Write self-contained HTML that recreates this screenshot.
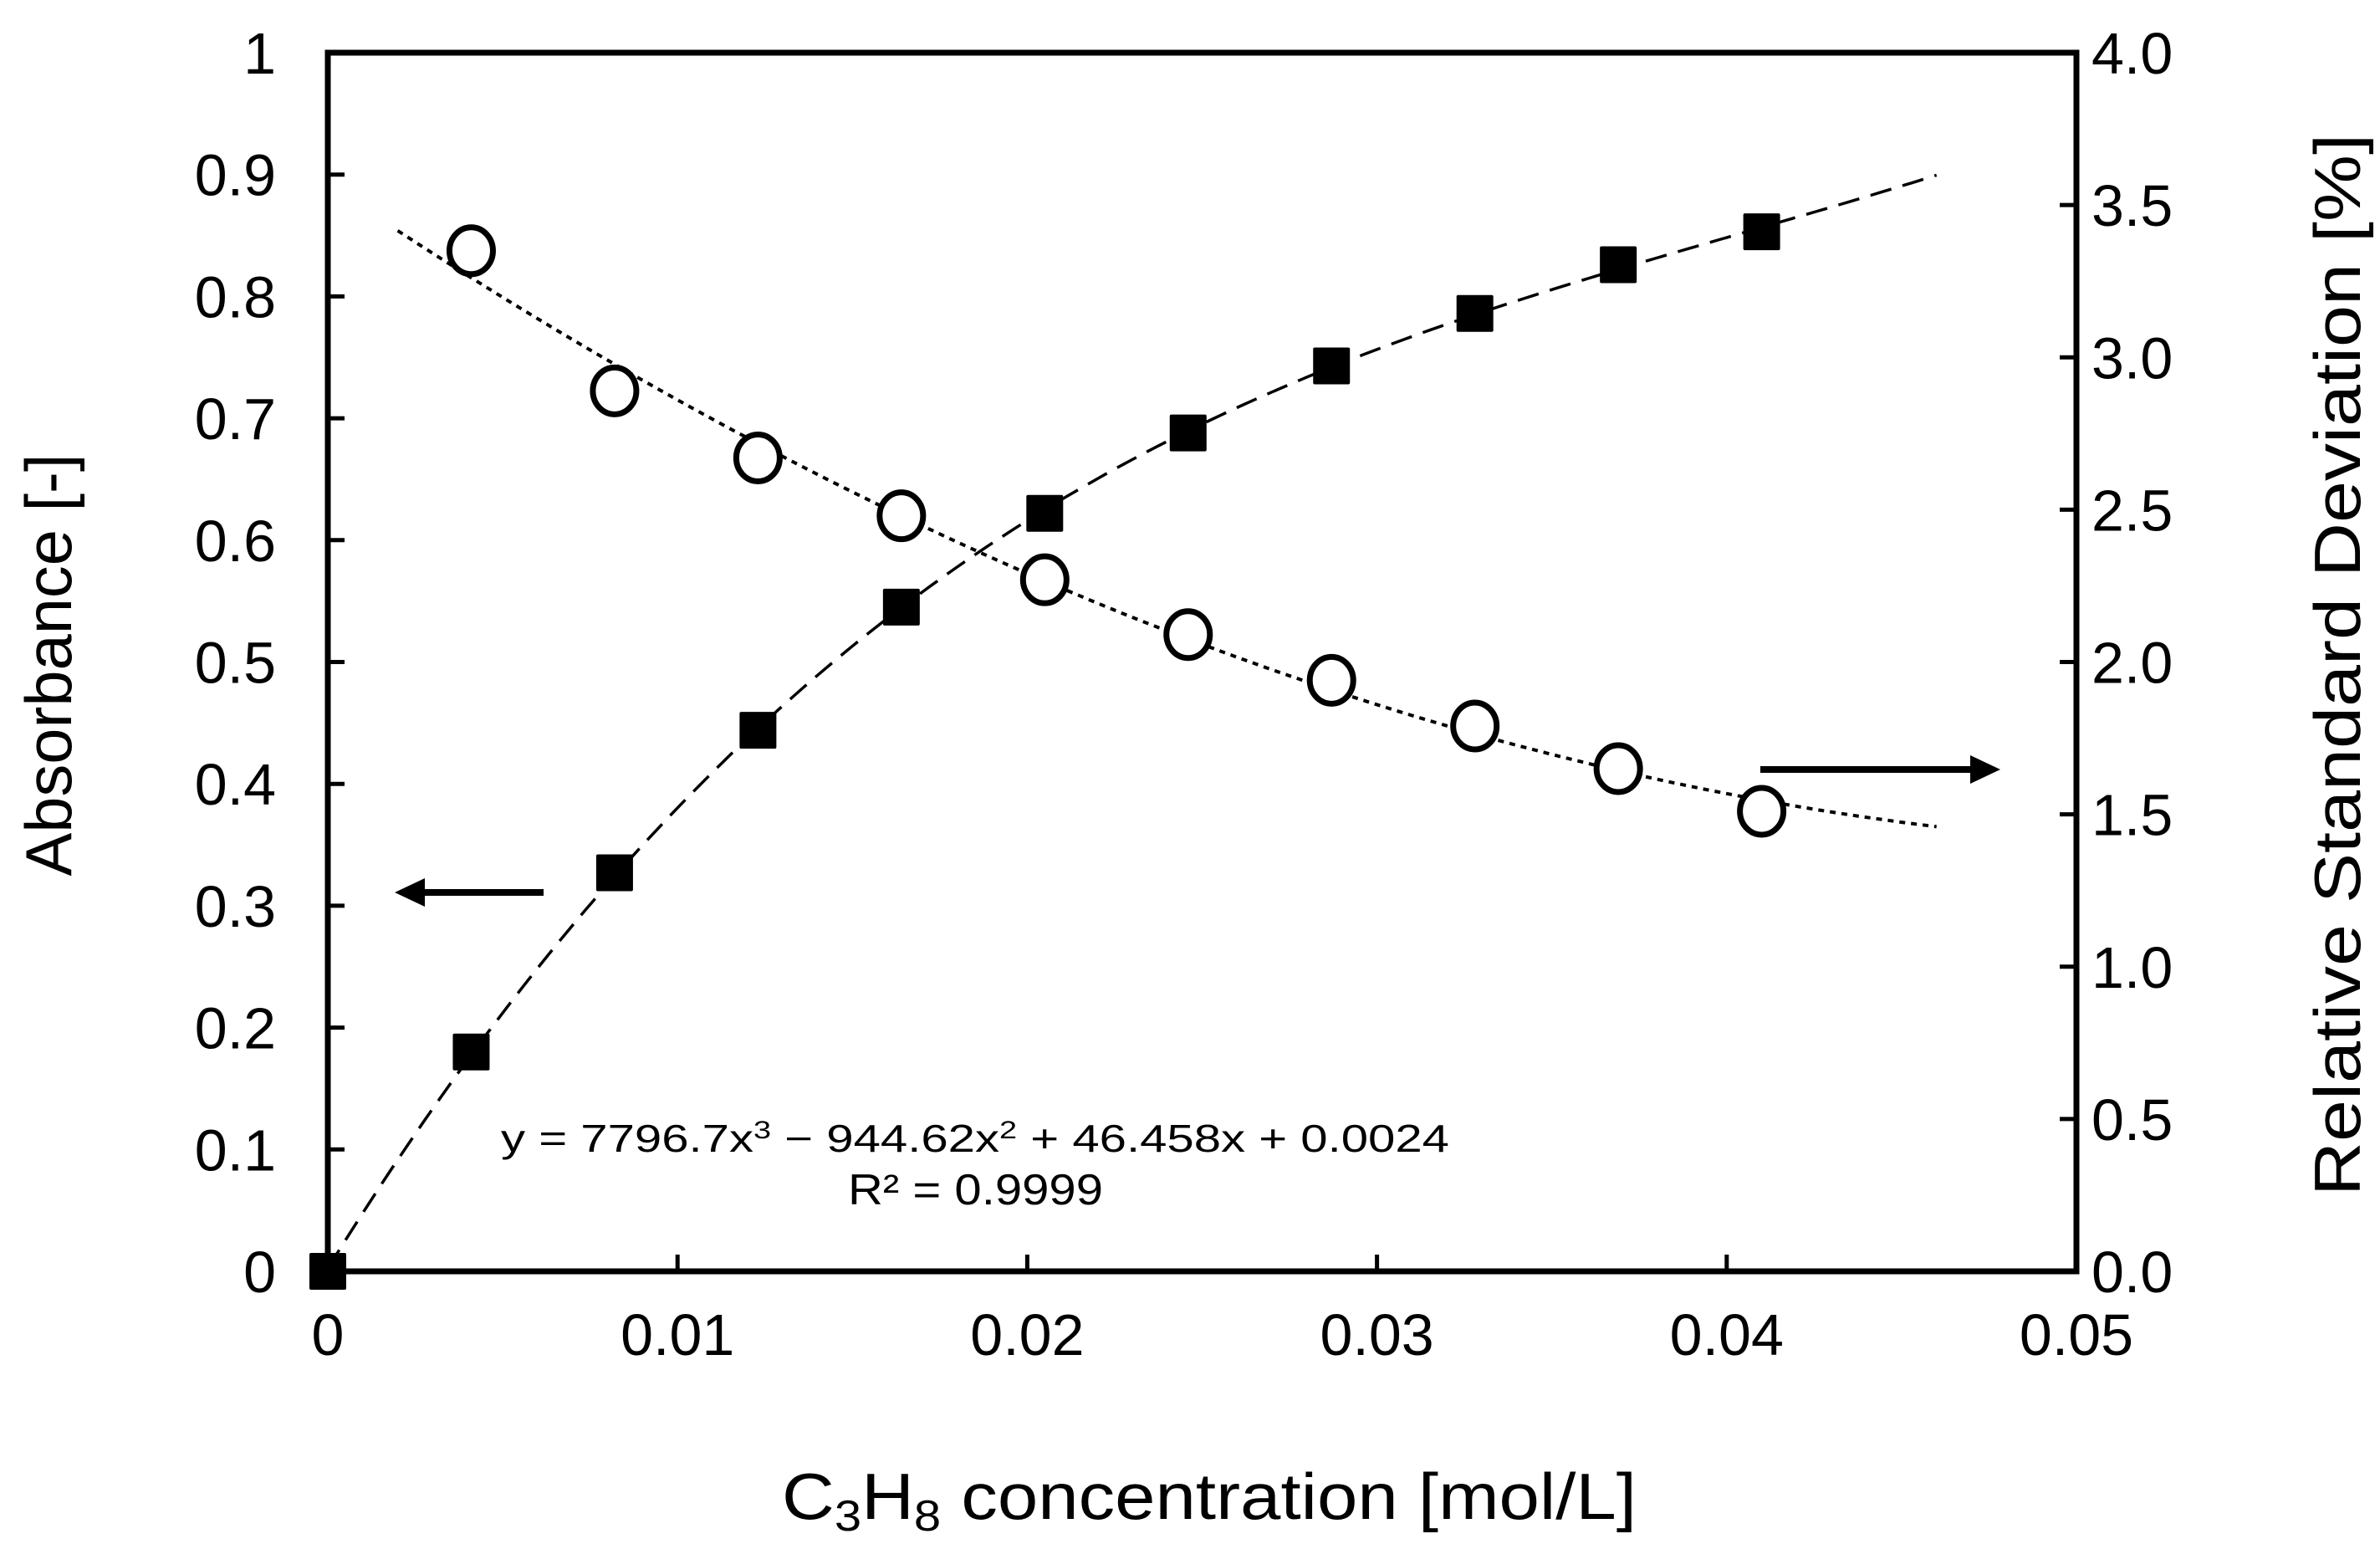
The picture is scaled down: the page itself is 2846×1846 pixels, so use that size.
<!DOCTYPE html>
<html><head><meta charset="utf-8"><style>
html,body{margin:0;padding:0;background:#fff;}
svg{display:block;font-family:"Liberation Sans",Arial,sans-serif;}
</style></head><body>
<svg id="chart" width="2846" height="1846" viewBox="0 0 2846 1846" xmlns="http://www.w3.org/2000/svg">
<rect width="2846" height="1846" fill="#fff"/>
<g id="marks"></g>
<g id="axes"></g>
</svg>
<script>
const concentration = [0, 0.0041, 0.0082, 0.0123, 0.0164, 0.0205, 0.0246, 0.0287, 0.0328, 0.0369, 0.041];
const absorbance = [0, 0.18, 0.327, 0.444, 0.545, 0.622, 0.688, 0.743, 0.786, 0.826, 0.853];
const rsdConc = [0.0041, 0.0082, 0.0123, 0.0164, 0.0205, 0.0246, 0.0287, 0.0328, 0.0369, 0.041];
const rsdValues = [3.35, 2.89, 2.67, 2.48, 2.27, 2.09, 1.94, 1.79, 1.65, 1.51];
const fitCoeffs = [7796.7, -944.62, 46.458, 0.0024];
const xTicks = [0, 0.01, 0.02, 0.03, 0.04, 0.05];
const xTickLabels = ["0", "0.01", "0.02", "0.03", "0.04", "0.05"];
const yTicks = [0, 0.1, 0.2, 0.3, 0.4, 0.5, 0.6, 0.7, 0.8, 0.9, 1];
const yTickLabels = ["0", "0.1", "0.2", "0.3", "0.4", "0.5", "0.6", "0.7", "0.8", "0.9", "1"];
const y2Ticks = [0, 0.5, 1, 1.5, 2, 2.5, 3, 3.5, 4];
const y2TickLabels = ["0.0", "0.5", "1.0", "1.5", "2.0", "2.5", "3.0", "3.5", "4.0"];

const L = 392, R = 2483, T = 63, B = 1520;
const X = v => L + (v - 0) / 0.05 * (R - L);
const Y = v => B - v / 1 * (B - T);
const Y2 = v => B - v / 4 * (B - T);
const NS = "http://www.w3.org/2000/svg";
const marks = document.getElementById('marks');
const axes = document.getElementById('axes');
function mk(tag, attrs, parent) {
  const e = document.createElementNS(NS, tag);
  for (const k in attrs) e.setAttribute(k, attrs[k]);
  parent.appendChild(e);
  return e;
}

let d = "";
for (let i = 0; i <= 200; i++) {
  const x = 0.046 * i / 200;
  const y = fitCoeffs[0] * x ** 3 + fitCoeffs[1] * x ** 2 + fitCoeffs[2] * x + fitCoeffs[3];
  d += (i ? "L" : "M") + X(x).toFixed(1) + "," + Y(y).toFixed(1);
}
const fit = mk('path', {d: d, fill: 'none', stroke: '#000', 'stroke-width': 3.5, 'stroke-dasharray': '26,14'}, marks);



(function () {
  const n = rsdConc.length;
  const S = [0, 0, 0, 0, 0], Sy = [0, 0, 0];
  for (let i = 0; i < n; i++) {
    const x = rsdConc[i] * 100, y = rsdValues[i];
    for (let k = 0; k < 5; k++) S[k] += x ** k;
    for (let k = 0; k < 3; k++) Sy[k] += y * x ** k;
  }
  const M = [[S[0], S[1], S[2], Sy[0]], [S[1], S[2], S[3], Sy[1]], [S[2], S[3], S[4], Sy[2]]];
  for (let i = 0; i < 3; i++) {
    for (let j = i + 1; j < 3; j++) {
      const f = M[j][i] / M[i][i];
      for (let k = i; k < 4; k++) M[j][k] -= f * M[i][k];
    }
  }
  const c = [0, 0, 0];
  for (let i = 2; i >= 0; i--) {
    let s = M[i][3];
    for (let k = i + 1; k < 3; k++) s -= M[i][k] * c[k];
    c[i] = s / M[i][i];
  }
  let p = "";
  for (let i = 0; i <= 200; i++) {
    const x = 0.002 + (0.046 - 0.002) * i / 200;
    const xs = x * 100;
    const y = c[0] + c[1] * xs + c[2] * xs * xs;
    p += (i ? "L" : "M") + X(x).toFixed(1) + "," + Y2(y).toFixed(1);
  }
  const tr = mk('path', {d: p, fill: 'none', stroke: '#000', 'stroke-width': 4, 'stroke-dasharray': '7,7'}, marks);
  
  
})();

concentration.forEach((c, i) => {
  const s = mk('rect', {x: X(c) - 22, y: Y(absorbance[i]) - 22, width: 44, height: 44, fill: '#000', rx: 2}, marks);
  
  
});
rsdConc.forEach((c, i) => {
  const o = mk('ellipse', {cx: X(c), cy: Y2(rsdValues[i]), rx: 26, ry: 28, fill: '#fff', stroke: '#000', 'stroke-width': 7}, marks);
  
  
});

const frame = mk('rect', {x: L, y: T, width: R - L, height: B - T, fill: 'none', stroke: '#000', 'stroke-width': 7}, axes);



xTicks.forEach((v, i) => {
  mk('line', {x1: X(v), x2: X(v), y1: B, y2: B - 20, stroke: '#000', 'stroke-width': 5}, axes);
  const t = mk('text', {x: X(v), y: B + 100, 'font-size': 70, 'text-anchor': 'middle'}, axes);
  t.textContent = xTickLabels[i];
  
  
});
yTicks.forEach((v, i) => {
  mk('line', {x1: L, x2: L + 20, y1: Y(v), y2: Y(v), stroke: '#000', 'stroke-width': 5}, axes);
  const t = mk('text', {x: 330, y: Y(v) + 25, 'font-size': 70, 'text-anchor': 'end'}, axes);
  t.textContent = yTickLabels[i];
  
  
});
y2Ticks.forEach((v, i) => {
  mk('line', {x1: R, x2: R - 20, y1: Y2(v), y2: Y2(v), stroke: '#000', 'stroke-width': 5}, axes);
  const t = mk('text', {x: 2501, y: Y2(v) + 25, 'font-size': 70, 'text-anchor': 'start'}, axes);
  t.textContent = y2TickLabels[i];
  
  
});

function arrow(x1, x2, y, name) {
  const g = mk('g', {}, axes);
  
  
  const dir = Math.sign(x2 - x1);
  mk('line', {x1: x1, x2: x2 - dir * 30, y1: y, y2: y, stroke: '#000', 'stroke-width': 8}, g);
  mk('polygon', {points: `${x2},${y} ${x2 - dir * 36},${y - 17} ${x2 - dir * 36},${y + 17}`, fill: '#000'}, g);
}
arrow(650, 472, 1067, 'left-axis-arrow');
arrow(2105, 2392, 920, 'right-axis-arrow');
</script>
<script>
(function(){
  const svg = document.getElementById('chart');
  const NS = "http://www.w3.org/2000/svg";
  function txt(html, attrs, name) {
    const e = document.createElementNS(NS, 'text');
    for (const k in attrs) e.setAttribute(k, attrs[k]);
    e.innerHTML = html;
    
    
    svg.appendChild(e);
  }
  txt('Absorbance [-]', {x: 0, y: 0, 'font-size': 78, 'text-anchor': 'middle', transform: 'translate(85,795) rotate(-90)', textLength: 505, lengthAdjust: 'spacingAndGlyphs'}, 'y-axis-title');
  txt('Relative Standard Deviation [%]', {x: 0, y: 0, 'font-size': 78, 'text-anchor': 'middle', transform: 'translate(2822,795) rotate(-90)', textLength: 1270, lengthAdjust: 'spacingAndGlyphs'}, 'y2-axis-title');
  txt('C<tspan font-size="52" dy="14">3</tspan><tspan dy="-14">H</tspan><tspan font-size="52" dy="14">8</tspan><tspan dy="-14"> concentration [mol/L]</tspan>', {x: 935, y: 1816, 'font-size': 78, textLength: 1022, lengthAdjust: 'spacingAndGlyphs'}, 'x-axis-title');
  txt('y = 7796.7x<tspan font-size="30" dy="-16">3</tspan><tspan dy="16"> − 944.62x</tspan><tspan font-size="30" dy="-16">2</tspan><tspan dy="16"> + 46.458x + 0.0024</tspan>', {x: 599, y: 1377, 'font-size': 46, textLength: 1134, lengthAdjust: 'spacingAndGlyphs'}, 'fit-equation');
  txt('R² = 0.9999', {x: 1014, y: 1440, 'font-size': 52, textLength: 305, lengthAdjust: 'spacingAndGlyphs'}, 'r-squared');
})();
</script>
</body></html>
